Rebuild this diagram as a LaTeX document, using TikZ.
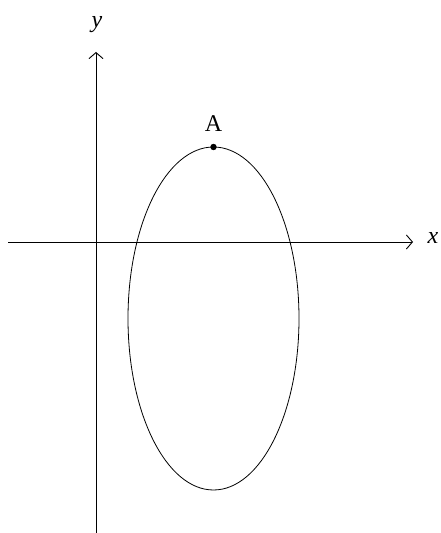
\documentclass[tikz,border=0pt]{standalone}
\usepackage{fontspec}
\setmainfont{Liberation Serif}
\usetikzlibrary{arrows.meta}
\begin{document}
\begin{tikzpicture}[x=1pt,y=1pt,
  axis/.style={line width=0.9pt,-{Straight Barb[length=6pt,width=14pt,line width=0.9pt]}},
  lbl/.style={font=\fontsize{24}{28}\selectfont,inner sep=0pt},
  curve/.style={line width=0.8pt}]
\useasboundingbox (0,0) rectangle (440,533);
\coordinate (ybot) at (96,0);
\coordinate (ytop) at (96,481);
\coordinate (xleft) at (8,291);
\coordinate (xright) at (413,291);
\draw[axis] (ybot) -- (ytop);
\draw[axis] (xleft) -- (xright);
\node[lbl] (ylab) at (97,508) {\textit{y}};
\node[lbl] (xlab) at (433,295) {\textit{x}};
\draw[curve] (213.5,214.5) ellipse [x radius=85.5, y radius=171.5];
\coordinate (A) at (213.5,386);
\fill (A) circle (3.2);
\node[lbl,anchor=base] (Alab) at (213.5,401) {A};
\end{tikzpicture}
\end{document}
